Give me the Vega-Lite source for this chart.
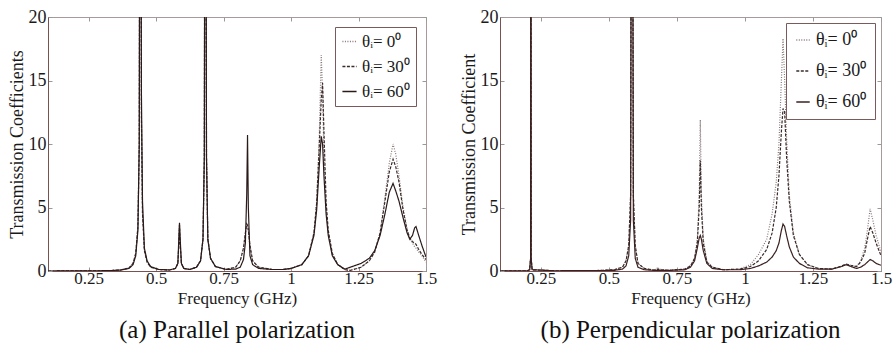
{
  "$schema": "https://vega.github.io/schema/vega-lite/v6.json",
  "background": "white",
  "padding": {"left": 7, "top": 7, "right": 0, "bottom": 0},
  "config": {
    "font": "Liberation Serif",
    "view": {"stroke": "#a89a9a", "strokeWidth": 1},
    "axis": {
      "grid": false,
      "domainColor": "#7a5050",
      "tickColor": "#999999",
      "tickSize": -4,
      "labelFont": "Liberation Serif",
      "labelFontSize": 18,
      "labelColor": "#1a1a1a",
      "labelFlush": false,
      "titleFont": "Liberation Serif",
      "titleFontSize": 18,
      "titleFontWeight": "normal",
      "titleColor": "#1a1a1a"
    },
    "legend": {
      "labelFont": "Liberation Serif",
      "labelColor": "#1a1a1a",
      "strokeColor": "#7a5a5a",
      "fillColor": "white",
      "symbolType": "stroke",
      "symbolStrokeWidth": 1.3,
      "title": null
    },
    "title": {"font": "Liberation Serif"}
  },
  "datasets": {
    "a": [
      {"f": 0.10, "t0": 0, "t30": 0, "t60": 0},
      {"f": 0.25, "t0": 0.01, "t30": 0.01, "t60": 0.01},
      {"f": 0.33, "t0": 0.03, "t30": 0.03, "t60": 0.03},
      {"f": 0.37, "t0": 0.08, "t30": 0.08, "t60": 0.08},
      {"f": 0.40, "t0": 0.25, "t30": 0.25, "t60": 0.2},
      {"f": 0.415, "t0": 0.6, "t30": 0.6, "t60": 0.5},
      {"f": 0.425, "t0": 1.4, "t30": 1.4, "t60": 1.2},
      {"f": 0.433, "t0": 3.5, "t30": 3.5, "t60": 3.2},
      {"f": 0.438, "t0": 10, "t30": 10, "t60": 10},
      {"f": 0.442, "t0": 60, "t30": 60, "t60": 60},
      {"f": 0.446, "t0": 12, "t30": 12, "t60": 14},
      {"f": 0.45, "t0": 4.5, "t30": 4.5, "t60": 5.5},
      {"f": 0.457, "t0": 1.6, "t30": 1.6, "t60": 1.8},
      {"f": 0.467, "t0": 0.7, "t30": 0.7, "t60": 0.8},
      {"f": 0.48, "t0": 0.3, "t30": 0.3, "t60": 0.35},
      {"f": 0.51, "t0": 0.12, "t30": 0.12, "t60": 0.12},
      {"f": 0.55, "t0": 0.08, "t30": 0.08, "t60": 0.08},
      {"f": 0.572, "t0": 0.2, "t30": 0.2, "t60": 0.2},
      {"f": 0.581, "t0": 0.6, "t30": 0.6, "t60": 0.6},
      {"f": 0.585, "t0": 2.3, "t30": 2.3, "t60": 2.8},
      {"f": 0.587, "t0": 3.6, "t30": 3.6, "t60": 3.8},
      {"f": 0.589, "t0": 2.3, "t30": 2.3, "t60": 2.8},
      {"f": 0.594, "t0": 0.6, "t30": 0.6, "t60": 0.6},
      {"f": 0.603, "t0": 0.2, "t30": 0.2, "t60": 0.2},
      {"f": 0.625, "t0": 0.12, "t30": 0.12, "t60": 0.12},
      {"f": 0.65, "t0": 0.3, "t30": 0.3, "t60": 0.3},
      {"f": 0.665, "t0": 0.8, "t30": 0.8, "t60": 0.8},
      {"f": 0.674, "t0": 2.5, "t30": 2.5, "t60": 2.5},
      {"f": 0.679, "t0": 9, "t30": 9, "t60": 9},
      {"f": 0.683, "t0": 60, "t30": 60, "t60": 60},
      {"f": 0.687, "t0": 9, "t30": 9, "t60": 9},
      {"f": 0.692, "t0": 2.5, "t30": 2.5, "t60": 2.5},
      {"f": 0.702, "t0": 1.0, "t30": 1.0, "t60": 1.0},
      {"f": 0.72, "t0": 0.35, "t30": 0.35, "t60": 0.35},
      {"f": 0.76, "t0": 0.12, "t30": 0.12, "t60": 0.12},
      {"f": 0.795, "t0": 0.3, "t30": 0.3, "t60": 0.15},
      {"f": 0.812, "t0": 0.8, "t30": 0.8, "t60": 0.3},
      {"f": 0.824, "t0": 1.8, "t30": 1.8, "t60": 0.9},
      {"f": 0.831, "t0": 3.0, "t30": 3.0, "t60": 2.2},
      {"f": 0.836, "t0": 3.7, "t30": 3.7, "t60": 6},
      {"f": 0.839, "t0": 3.6, "t30": 3.6, "t60": 10.7},
      {"f": 0.842, "t0": 3.2, "t30": 3.2, "t60": 5},
      {"f": 0.848, "t0": 2.0, "t30": 2.0, "t60": 1.2},
      {"f": 0.858, "t0": 0.8, "t30": 0.8, "t60": 0.5},
      {"f": 0.88, "t0": 0.3, "t30": 0.3, "t60": 0.2},
      {"f": 0.93, "t0": 0.12, "t30": 0.12, "t60": 0.12},
      {"f": 0.97, "t0": 0.12, "t30": 0.12, "t60": 0.12},
      {"f": 1.00, "t0": 0.2, "t30": 0.2, "t60": 0.2},
      {"f": 1.04, "t0": 0.5, "t30": 0.5, "t60": 0.5},
      {"f": 1.065, "t0": 1.2, "t30": 1.2, "t60": 1.2},
      {"f": 1.085, "t0": 3.0, "t30": 3.0, "t60": 2.8},
      {"f": 1.095, "t0": 5.5, "t30": 5.3, "t60": 4.8},
      {"f": 1.104, "t0": 10, "t30": 9.5, "t60": 8},
      {"f": 1.112, "t0": 17, "t30": 13.5, "t60": 10.6},
      {"f": 1.117, "t0": 14, "t30": 14.8, "t60": 10},
      {"f": 1.122, "t0": 9, "t30": 11, "t60": 7.5},
      {"f": 1.13, "t0": 5, "t30": 5.5, "t60": 4.5},
      {"f": 1.138, "t0": 3, "t30": 3.2, "t60": 2.8},
      {"f": 1.153, "t0": 1.3, "t30": 1.4, "t60": 1.2},
      {"f": 1.173, "t0": 0.5, "t30": 0.5, "t60": 0.5},
      {"f": 1.20, "t0": 0.1, "t30": 0.1, "t60": 0.15},
      {"f": 1.22, "t0": 0.05, "t30": 0.05, "t60": 0.3},
      {"f": 1.26, "t0": 0.3, "t30": 0.3, "t60": 0.6},
      {"f": 1.29, "t0": 0.8, "t30": 0.8, "t60": 1.0},
      {"f": 1.31, "t0": 1.5, "t30": 1.5, "t60": 1.6},
      {"f": 1.33, "t0": 3.0, "t30": 3.0, "t60": 2.8},
      {"f": 1.348, "t0": 5.8, "t30": 5.5, "t60": 4.5},
      {"f": 1.364, "t0": 8.5, "t30": 7.8, "t60": 6.2},
      {"f": 1.378, "t0": 10, "t30": 8.8, "t60": 6.9},
      {"f": 1.388, "t0": 9.2, "t30": 8.2, "t60": 6.3},
      {"f": 1.40, "t0": 7.5, "t30": 7, "t60": 5.5},
      {"f": 1.415, "t0": 5, "t30": 4.8, "t60": 4.2},
      {"f": 1.43, "t0": 3.3, "t30": 3.2, "t60": 3.0},
      {"f": 1.44, "t0": 2.6, "t30": 2.6, "t60": 2.5},
      {"f": 1.45, "t0": 2.2, "t30": 2.3, "t60": 2.8},
      {"f": 1.458, "t0": 1.9, "t30": 2.2, "t60": 3.4},
      {"f": 1.463, "t0": 1.8, "t30": 2.1, "t60": 3.5},
      {"f": 1.473, "t0": 1.5, "t30": 1.7, "t60": 2.8},
      {"f": 1.485, "t0": 1.2, "t30": 1.3, "t60": 2.0},
      {"f": 1.50, "t0": 0.7, "t30": 0.9, "t60": 1.1}
    ],
    "b": [
      {"f": 0.10, "t0": 0, "t30": 0, "t60": 0},
      {"f": 0.20, "t0": 0.02, "t30": 0.02, "t60": 0.02},
      {"f": 0.209, "t0": 0.1, "t30": 0.1, "t60": 0.1},
      {"f": 0.2125, "t0": 1, "t30": 1, "t60": 1},
      {"f": 0.2135, "t0": 60, "t30": 60, "t60": 60},
      {"f": 0.2145, "t0": 1, "t30": 1, "t60": 1},
      {"f": 0.218, "t0": 0.1, "t30": 0.1, "t60": 0.1},
      {"f": 0.30, "t0": 0.02, "t30": 0.02, "t60": 0.02},
      {"f": 0.45, "t0": 0.03, "t30": 0.03, "t60": 0.03},
      {"f": 0.52, "t0": 0.1, "t30": 0.1, "t60": 0.05},
      {"f": 0.55, "t0": 0.3, "t30": 0.3, "t60": 0.15},
      {"f": 0.563, "t0": 0.8, "t30": 0.8, "t60": 0.4},
      {"f": 0.573, "t0": 2, "t30": 2, "t60": 1.2},
      {"f": 0.58, "t0": 6, "t30": 6, "t60": 4},
      {"f": 0.585, "t0": 60, "t30": 60, "t60": 60},
      {"f": 0.59, "t0": 6, "t30": 6, "t60": 4},
      {"f": 0.597, "t0": 2, "t30": 2, "t60": 1},
      {"f": 0.607, "t0": 0.6, "t30": 0.6, "t60": 0.3},
      {"f": 0.63, "t0": 0.2, "t30": 0.2, "t60": 0.1},
      {"f": 0.665, "t0": 0.08, "t30": 0.08, "t60": 0.05},
      {"f": 0.675, "t0": 0.15, "t30": 0.1, "t60": 0.05},
      {"f": 0.68, "t0": 0.3, "t30": 0.15, "t60": 0.05},
      {"f": 0.685, "t0": 0.15, "t30": 0.1, "t60": 0.05},
      {"f": 0.72, "t0": 0.05, "t30": 0.05, "t60": 0.05},
      {"f": 0.78, "t0": 0.15, "t30": 0.15, "t60": 0.1},
      {"f": 0.80, "t0": 0.4, "t30": 0.4, "t60": 0.3},
      {"f": 0.815, "t0": 1.0, "t30": 1.0, "t60": 0.8},
      {"f": 0.825, "t0": 2.5, "t30": 2.2, "t60": 1.8},
      {"f": 0.832, "t0": 6, "t30": 5, "t60": 2.6},
      {"f": 0.836, "t0": 11.9, "t30": 8.7, "t60": 2.8},
      {"f": 0.84, "t0": 6, "t30": 5, "t60": 2.5},
      {"f": 0.847, "t0": 2.5, "t30": 2.2, "t60": 1.6},
      {"f": 0.86, "t0": 0.8, "t30": 0.7, "t60": 0.6},
      {"f": 0.88, "t0": 0.3, "t30": 0.3, "t60": 0.2},
      {"f": 0.92, "t0": 0.1, "t30": 0.1, "t60": 0.1},
      {"f": 0.98, "t0": 0.15, "t30": 0.15, "t60": 0.1},
      {"f": 1.02, "t0": 0.5, "t30": 0.35, "t60": 0.2},
      {"f": 1.05, "t0": 1.3, "t30": 0.8, "t60": 0.4},
      {"f": 1.08, "t0": 2.5, "t30": 1.7, "t60": 0.7},
      {"f": 1.10, "t0": 4.5, "t30": 3, "t60": 1.1},
      {"f": 1.115, "t0": 7, "t30": 5, "t60": 1.6},
      {"f": 1.125, "t0": 10, "t30": 7.5, "t60": 2.2},
      {"f": 1.134, "t0": 15, "t30": 11, "t60": 3.2},
      {"f": 1.14, "t0": 18.3, "t30": 12.8, "t60": 3.7},
      {"f": 1.146, "t0": 15, "t30": 12.5, "t60": 3.5},
      {"f": 1.153, "t0": 10.5, "t30": 9, "t60": 2.8},
      {"f": 1.163, "t0": 6, "t30": 5.5, "t60": 1.9},
      {"f": 1.178, "t0": 3, "t30": 2.8, "t60": 1.1},
      {"f": 1.20, "t0": 1.3, "t30": 1.3, "t60": 0.6},
      {"f": 1.23, "t0": 0.5, "t30": 0.5, "t60": 0.25},
      {"f": 1.27, "t0": 0.2, "t30": 0.2, "t60": 0.15},
      {"f": 1.32, "t0": 0.15, "t30": 0.15, "t60": 0.15},
      {"f": 1.355, "t0": 0.35, "t30": 0.4, "t60": 0.35},
      {"f": 1.372, "t0": 0.5, "t30": 0.55, "t60": 0.5},
      {"f": 1.39, "t0": 0.4, "t30": 0.45, "t60": 0.35},
      {"f": 1.41, "t0": 0.35, "t30": 0.35, "t60": 0.2},
      {"f": 1.425, "t0": 0.8, "t30": 0.7, "t60": 0.3},
      {"f": 1.44, "t0": 1.8, "t30": 1.4, "t60": 0.5},
      {"f": 1.45, "t0": 3.2, "t30": 2.5, "t60": 0.7},
      {"f": 1.46, "t0": 4.9, "t30": 3.5, "t60": 0.9},
      {"f": 1.47, "t0": 4, "t30": 3, "t60": 0.8},
      {"f": 1.482, "t0": 2.8, "t30": 2.2, "t60": 0.6},
      {"f": 1.50, "t0": 1.5, "t30": 1.2, "t60": 0.45}
    ]
  },
  "hconcat": [
    {
      "width": 378,
      "height": 254,
      "title": {"text": "(a) Parallel polarization", "orient": "bottom", "fontSize": 25, "fontWeight": "normal", "font": "Liberation Serif", "color": "#111", "offset": 12},
      "data": {"name": "a"},
      "transform": [{"fold": ["t0", "t30", "t60"], "as": ["series", "T"]}],
      "layer": [
        {
          "mark": {"type": "line", "clip": true, "strokeWidth": 1.2},
          "encoding": {
            "x": {"field": "f", "type": "quantitative", "scale": {"domain": [0.1, 1.5], "nice": false}, "axis": {"values": [0.25, 0.5, 0.75, 1, 1.25, 1.5], "labelExpr": "'' + datum.value", "title": "Frequency (GHz)", "titlePadding": 4, "titleFontSize": 17, "labelPadding": 3, "labelFontSize": 17, "labelFont": "Liberation Serif", "titleFont": "Liberation Serif"}},
            "y": {"field": "T", "type": "quantitative", "scale": {"domain": [0, 20], "nice": false}, "axis": {"values": [0, 5, 10, 15, 20], "title": "Transmission Coefficients", "titlePadding": 2, "labelPadding": 6, "labelFont": "Liberation Serif", "titleFont": "Liberation Serif"}},
            "color": {"field": "series", "type": "nominal", "scale": {"domain": ["t0", "t30", "t60"], "range": ["#8a7878", "#3a2a2a", "#2a1a1a"]},
              "legend": {"orient": "top-right", "offset": 10, "labelFontSize": 17, "labelFont": "Liberation Serif", "rowPadding": 7, "padding": 6, "symbolSize": 200,
                "labelExpr": "datum.value == 't0' ? 'θᵢ= 0⁰' : datum.value == 't30' ? 'θᵢ= 30⁰' : 'θᵢ= 60⁰'"}},
            "strokeDash": {"field": "series", "type": "nominal", "scale": {"domain": ["t0", "t30", "t60"], "range": [[1, 1.5], [3, 1.5], [1, 0]]},
              "legend": {"orient": "top-right", "offset": 10, "labelFontSize": 17, "labelFont": "Liberation Serif", "rowPadding": 7, "padding": 6, "symbolSize": 200,
                "labelExpr": "datum.value == 't0' ? 'θᵢ= 0⁰' : datum.value == 't30' ? 'θᵢ= 30⁰' : 'θᵢ= 60⁰'"}}
          }
        },
        {
          "mark": {"type": "line", "strokeOpacity": 0, "clip": true},
          "encoding": {
            "x": {"field": "f", "type": "quantitative", "axis": {"orient": "top", "values": [0.25, 0.5, 0.75, 1, 1.25, 1.5], "labels": false, "title": null, "domain": false}},
            "y": {"field": "T", "type": "quantitative", "axis": {"orient": "right", "values": [0, 5, 10, 15, 20], "labels": false, "title": null, "domain": false}}
          }
        }
      ],
      "resolve": {"axis": {"x": "independent", "y": "independent"}}
    },
    {
      "width": 381,
      "height": 254,
      "title": {"text": "(b) Perpendicular polarization", "orient": "bottom", "fontSize": 25, "fontWeight": "normal", "font": "Liberation Serif", "color": "#111", "offset": 12},
      "data": {"name": "b"},
      "transform": [{"fold": ["t0", "t30", "t60"], "as": ["series", "T"]}],
      "layer": [
        {
          "mark": {"type": "line", "clip": true, "strokeWidth": 1.2},
          "encoding": {
            "x": {"field": "f", "type": "quantitative", "scale": {"domain": [0.1, 1.5], "nice": false}, "axis": {"values": [0.25, 0.5, 0.75, 1, 1.25, 1.5], "labelExpr": "'' + datum.value", "title": "Frequency (GHz)", "titlePadding": 4, "titleFontSize": 17, "labelPadding": 3, "labelFontSize": 17, "labelFont": "Liberation Serif", "titleFont": "Liberation Serif"}},
            "y": {"field": "T", "type": "quantitative", "scale": {"domain": [0, 20], "nice": false}, "axis": {"values": [0, 5, 10, 15, 20], "title": "Transmission Coefficient", "titlePadding": 2, "labelPadding": 6, "labelFont": "Liberation Serif", "titleFont": "Liberation Serif"}},
            "color": {"field": "series", "type": "nominal", "scale": {"domain": ["t0", "t30", "t60"], "range": ["#8a7878", "#3a2a2a", "#3a2020"]},
              "legend": {"orient": "top-right", "offset": 6, "labelFontSize": 18, "labelFont": "Liberation Serif", "rowPadding": 13, "padding": 8, "symbolSize": 180,
                "labelExpr": "datum.value == 't0' ? 'θᵢ= 0⁰' : datum.value == 't30' ? 'θᵢ= 30⁰' : 'θᵢ= 60⁰'"}},
            "strokeDash": {"field": "series", "type": "nominal", "scale": {"domain": ["t0", "t30", "t60"], "range": [[1, 1.5], [3, 1.5], [1, 0]]},
              "legend": {"orient": "top-right", "offset": 6, "labelFontSize": 18, "labelFont": "Liberation Serif", "rowPadding": 13, "padding": 8, "symbolSize": 180,
                "labelExpr": "datum.value == 't0' ? 'θᵢ= 0⁰' : datum.value == 't30' ? 'θᵢ= 30⁰' : 'θᵢ= 60⁰'"}}
          }
        },
        {
          "mark": {"type": "line", "strokeOpacity": 0, "clip": true},
          "encoding": {
            "x": {"field": "f", "type": "quantitative", "axis": {"orient": "top", "values": [0.25, 0.5, 0.75, 1, 1.25, 1.5], "labels": false, "title": null, "domain": false}},
            "y": {"field": "T", "type": "quantitative", "axis": {"orient": "right", "values": [0, 5, 10, 15, 20], "labels": false, "title": null, "domain": false}}
          }
        }
      ],
      "resolve": {"axis": {"x": "independent", "y": "independent"}}
    }
  ],
  "spacing": 21,
  "resolve": {"scale": {"color": "independent", "strokeDash": "independent"}, "legend": {"color": "independent", "strokeDash": "independent"}}
}
